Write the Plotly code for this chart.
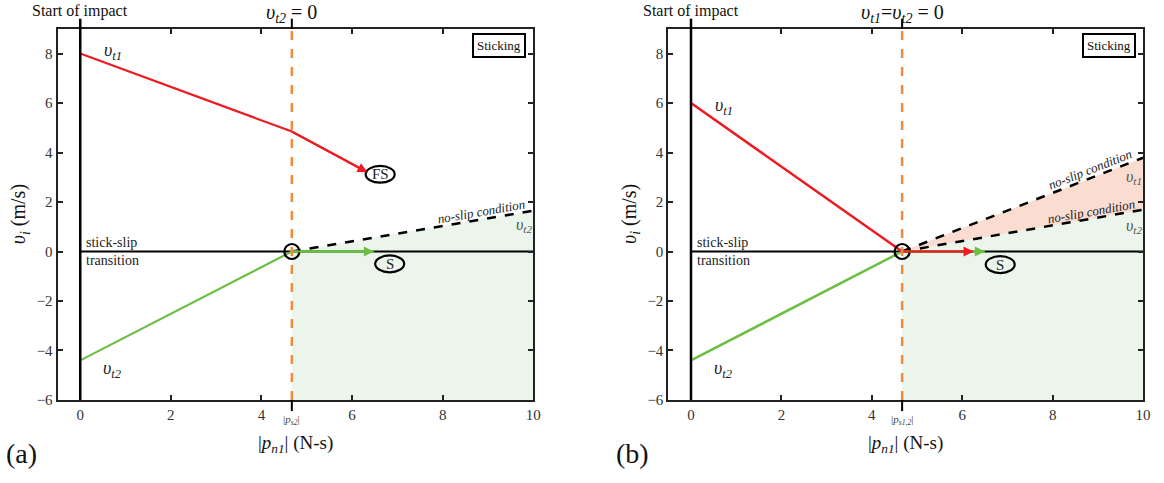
import plotly.graph_objects as go

# ---- data -------------------------------------------------------------
x_ticks = [0, 2, 4, 6, 8, 10]
y_ticks = [-6, -4, -2, 0, 2, 4, 6, 8]
p_s = 4.67                      # impulse where sticking begins

# panel (a)
a_vt1_x = [0, p_s, 6.34]
a_vt1_y = [8, 4.85, 3.2]
a_vt2_x = [0, p_s]
a_vt2_y = [-4.4, 0]
a_stick_x = [p_s, 6.48]
a_stick_y = [0, 0]
a_noslip_end = 1.65

# panel (b)
b_vt1_x = [0, p_s, 6.25]
b_vt1_y = [6, 0, 0]
b_vt2_x = [0, p_s, 6.5]
b_vt2_y = [-4.4, 0, 0]
b_noslip1_end = 3.79
b_noslip2_end = 1.69

X_RANGE = [-0.5, 10]
Y_RANGE = [-6, 9]

# ---- styling ----------------------------------------------------------
RED = "#ED1C24"
GREEN = "#6CBE45"
ORANGE = "#F08A3C"
GREEN_FILL = "#EBF5EC"
PINK_FILL = "#FADCD1"
SERIF = "Liberation Serif, Times New Roman, serif"

W, H = 1164, 483
Y_DOM = [1 - 406.7 / H, 1 - 29.3 / H]
X_DOM_A = [58 / W, 537 / W]
X_DOM_B = [673 / W, 1151 / W]


def py(px):
    return 1 - px / H


fig = go.Figure()
shapes = []
ann = []


def line_trace(x, y, color, xa, ya, width=2.2, dash=None):
    fig.add_trace(go.Scatter(x=x, y=y, mode="lines", xaxis=xa, yaxis=ya,
                             line=dict(color=color, width=width, dash=dash),
                             hoverinfo="skip", showlegend=False))


def fill_trace(x, y, color, xa, ya):
    fig.add_trace(go.Scatter(x=x, y=y, mode="lines", fill="toself", fillcolor=color,
                             line=dict(width=0), xaxis=xa, yaxis=ya,
                             hoverinfo="skip", showlegend=False))


def arrow(x0, y0, x1, y1, color, xr, yr):
    ann.append(dict(x=x1, y=y1, ax=x0, ay=y0, xref=xr, yref=yr, axref=xr, ayref=yr,
                    showarrow=True, arrowhead=2, arrowsize=1.0, arrowwidth=2,
                    arrowcolor=color, standoff=0, startstandoff=0, text=""))


def label(x, y, s, xr, yr, size=13, color="#222", angle=0, xanchor="center", **kw):
    ann.append(dict(x=x, y=y, xref=xr, yref=yr, text=s, showarrow=False,
                    font=dict(family=SERIF, size=size, color=color),
                    textangle=angle, xanchor=xanchor, yanchor="middle", **kw))


def ellipse(xc, yc, s, xr, yr):
    shapes.append(dict(type="circle", xref=xr, yref=yr,
                       x0=xc - 0.32, x1=xc + 0.32, y0=yc - 0.34, y1=yc + 0.34,
                       line=dict(color="black", width=2.2)))
    label(xc, yc, s, xr, yr, size=15)


def v(sub):
    return "<i>υ</i><sub><i>" + sub + "</i></sub>"


def common(xr, yr, xd, top_label, ps_label, panel_letter):
    # vertical start-of-impact line extends above the frame
    shapes.append(dict(type="line", xref=xr, yref="paper", x0=0, x1=0,
                       y0=Y_DOM[0], y1=py(19), line=dict(color="black", width=2.5)))
    # dashed orange marker at the sticking impulse
    shapes.append(dict(type="line", xref=xr, yref=yr, x0=p_s, x1=p_s,
                       y0=Y_RANGE[0], y1=Y_RANGE[1],
                       line=dict(color=ORANGE, width=2.5, dash="dash")))
    shapes.append(dict(type="line", xref=xr, yref="paper", x0=p_s, x1=p_s,
                       y0=Y_DOM[1], y1=py(19), line=dict(color="black", width=2)))
    shapes.append(dict(type="line", xref=xr, yref="paper", x0=p_s, x1=p_s,
                       y0=Y_DOM[0], y1=py(418), line=dict(color="black", width=2)))
    # outside labels
    label(0, py(11), "Start of impact", xr, "paper", size=16, color="#111")
    label(p_s, py(14), top_label, xr, "paper", size=20, color="#111")
    label(p_s, py(427), ps_label, xr, "paper", size=11, color="#444")
    label((xd[0] + xd[1]) / 2, py(451), "|<i>p</i><sub><i>n1</i></sub>| (N-s)",
          "paper", "paper", size=19, color="#111")
    label(xd[0] - 38 / W, (Y_DOM[0] + Y_DOM[1]) / 2, "<i>υ</i><sub><i>i</i></sub> (m/s)",
          "paper", "paper", size=20, color="#111", angle=-90)
    label(xd[0] - 36 / W, py(461), panel_letter, "paper", "paper", size=28, color="#111")
    label(xd[1] - 7 / W, py(46), "Sticking", "paper", "paper", size=13, color="#111",
          xanchor="right", bordercolor="black", borderwidth=2, borderpad=3, bgcolor="white")
    # stick-slip transition label
    label(0.08, 0.38, "stick-slip", xr, yr, size=14, xanchor="left")
    label(0.08, -0.36, "transition", xr, yr, size=14, xanchor="left")


# ---------------- panel (a) ----------------
fill_trace([p_s, 10, 10, p_s], [0, a_noslip_end, Y_RANGE[0], Y_RANGE[0]], GREEN_FILL, "x", "y")
line_trace([0, 10], [0, 0], "black", "x", "y", width=2.2)
line_trace([p_s, 10], [0, a_noslip_end], "black", "x", "y", width=2.5, dash="dash")
line_trace(a_vt1_x, a_vt1_y, RED, "x", "y")
line_trace(a_vt2_x, a_vt2_y, GREEN, "x", "y")
line_trace(a_stick_x, a_stick_y, GREEN, "x", "y", width=2.5)
arrow(a_vt1_x[-2], a_vt1_y[-2], a_vt1_x[-1], a_vt1_y[-1], RED, "x", "y")
arrow(a_stick_x[0], a_stick_y[0], a_stick_x[-1], a_stick_y[-1], GREEN, "x", "y")
fig.add_trace(go.Scatter(x=[p_s], y=[0], mode="markers", xaxis="x", yaxis="y",
                         marker=dict(size=15, color="rgba(0,0,0,0)",
                                     line=dict(color="black", width=2.2)),
                         hoverinfo="skip", showlegend=False))
ellipse(6.62, 3.12, "FS", "x", "y")
ellipse(6.83, -0.5, "S", "x", "y")
label(0.72, 8.1, v("t1"), "x", "y", size=18)
label(0.72, -4.75, v("t2"), "x", "y", size=18)
label(8.85, 1.62, "<i>no-slip condition</i>", "x", "y", size=13, angle=-9.9)
label(9.8, 1.05, v("t2"), "x", "y", size=16, color="#555")
common("x", "y", X_DOM_A, "<i>υ</i><sub><i>t2</i></sub> = 0",
       "|<i>p</i><sub><i>s2</i></sub>|", "(a)")

# ---------------- panel (b) ----------------
fill_trace([p_s, 10, 10, p_s], [0, b_noslip2_end, Y_RANGE[0], Y_RANGE[0]], GREEN_FILL, "x2", "y2")
fill_trace([p_s, 10, 10], [0, b_noslip1_end, b_noslip2_end], PINK_FILL, "x2", "y2")
line_trace([0, 10], [0, 0], "black", "x2", "y2", width=2.2)
line_trace([p_s, 10], [0, b_noslip1_end], "black", "x2", "y2", width=2.5, dash="dash")
line_trace([p_s, 10], [0, b_noslip2_end], "black", "x2", "y2", width=2.5, dash="dash")
line_trace(b_vt2_x, b_vt2_y, GREEN, "x2", "y2", width=2.5)
line_trace(b_vt1_x, b_vt1_y, RED, "x2", "y2", width=2.5)
arrow(b_vt2_x[-2], b_vt2_y[-2], b_vt2_x[-1], b_vt2_y[-1], GREEN, "x2", "y2")
arrow(b_vt1_x[-2], b_vt1_y[-2], b_vt1_x[-1], b_vt1_y[-1], RED, "x2", "y2")
fig.add_trace(go.Scatter(x=[p_s], y=[0], mode="markers", xaxis="x2", yaxis="y2",
                         marker=dict(size=15, color="rgba(0,0,0,0)",
                                     line=dict(color="black", width=2.2)),
                         hoverinfo="skip", showlegend=False))
ellipse(6.84, -0.53, "S", "x2", "y2")
label(0.72, 5.85, v("t1"), "x2", "y2", size=18)
label(0.72, -4.75, v("t2"), "x2", "y2", size=18)
label(8.82, 3.3, "<i>no-slip condition</i>", "x2", "y2", size=13, angle=-21.5)
label(8.84, 1.63, "<i>no-slip condition</i>", "x2", "y2", size=13, angle=-9.9)
label(9.8, 3.0, v("t1"), "x2", "y2", size=16, color="#555")
label(9.8, 1.0, v("t2"), "x2", "y2", size=16, color="#555")
common("x2", "y2", X_DOM_B,
       "<i>υ</i><sub><i>t1</i></sub>=<i>υ</i><sub><i>t2</i></sub> = 0",
       "|<i>p</i><sub><i>s1,2</i></sub>|", "(b)")

axis_common = dict(showline=True, linecolor="#222", linewidth=2, mirror="ticks",
                   ticks="inside", ticklen=5, tickwidth=1.5, tickcolor="#222",
                   showgrid=False, zeroline=False,
                   tickfont=dict(family=SERIF, size=15, color="#333"))

fig.update_layout(
    width=W, height=H,
    margin=dict(l=0, r=0, t=0, b=0),
    paper_bgcolor="white", plot_bgcolor="white",
    font=dict(family=SERIF),
    xaxis=dict(domain=X_DOM_A, range=X_RANGE, tickvals=x_ticks, anchor="y", **axis_common),
    yaxis=dict(domain=Y_DOM, range=Y_RANGE, tickvals=y_ticks, anchor="x",
               tickformat="d", **axis_common),
    xaxis2=dict(domain=X_DOM_B, range=X_RANGE, tickvals=x_ticks, anchor="y2", **axis_common),
    yaxis2=dict(domain=Y_DOM, range=Y_RANGE, tickvals=y_ticks, anchor="x2",
                tickformat="d", **axis_common),
    shapes=shapes,
    annotations=ann,
    showlegend=False,
)

fig.write_html("out.html")
